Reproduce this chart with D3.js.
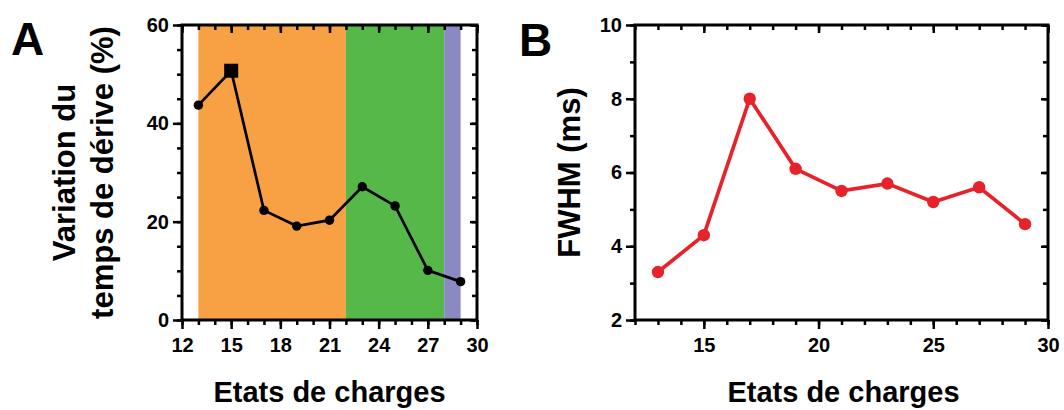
<!DOCTYPE html>
<html><head><meta charset="utf-8">
<script src="https://cdn.jsdelivr.net/npm/d3@7"></script>
<style>
html,body{margin:0;padding:0;background:#fff;}
svg text{font-family:"Liberation Sans",Arial,sans-serif;font-weight:bold;fill:#000;}
</style></head>
<body><svg id="c" width="1064" height="410"></svg>
<script>
// ---- data ----
const chargeStates = [13, 15, 17, 19, 21, 23, 25, 27, 29];
const driftVariation = [43.7, 50.7, 22.3, 19.1, 20.3, 27.1, 23.2, 10.1, 7.8];
const fwhm = [3.3, 4.3, 8.0, 6.1, 5.5, 5.7, 5.2, 5.6, 4.6];
const bandStarts = [13, 22, 28];
const bandEnds = [22, 28, 29];
const bandColors = ["#f7a044", "#57b84a", "#8a89c4"];
const xTicksA = [12, 15, 18, 21, 24, 27, 30];
const yTicksA = [0, 20, 40, 60];
const xTicksB = [15, 20, 25, 30];
const yTicksB = [2, 4, 6, 8, 10];
const xTitle = "Etats de charges";
const yTitleA = ["Variation du", "temps de dérive (%)"];
const yTitleB = "FWHM (ms)";

const svg = d3.select("#c");
const plotTop = 25, plotBottom = 320;

function frame(g, x, y, xMajor, xMinor, yMajor, yMinor) {
  const [x0, x1] = x.range();
  const axes = [
    [d3.axisBottom, x, `translate(0,${plotBottom})`, xMajor, xMinor, 9, 5, true, 9],
    [d3.axisTop, x, `translate(0,${plotTop})`, xMajor, xMinor, -8, -5, false, 0],
    [d3.axisLeft, y, `translate(${x0},0)`, yMajor, yMinor, 9, 5, true, 4],
    [d3.axisRight, y, `translate(${x1},0)`, yMajor, yMinor, -7, -5, false, 0]
  ];
  axes.forEach(([mk, sc, tr, maj, min, ls, ss, lab, pad]) => {
    const gm = g.append("g").attr("transform", tr)
      .call(mk(sc).tickValues(min).tickSize(ss).tickFormat(""));
    gm.select(".domain").remove();
    gm.selectAll("line").attr("stroke", "#000").attr("stroke-width", 2.5);
    const g2 = g.append("g").attr("transform", tr)
      .call(mk(sc).tickValues(maj).tickSize(ls).tickPadding(pad).tickFormat(lab ? d3.format("d") : () => ""));
    g2.select(".domain").remove();
    g2.selectAll("line").attr("stroke", "#000").attr("stroke-width", 2.5);
    g2.selectAll("text").style("font-size", "20px").style("font-family", "'Liberation Sans',Arial,sans-serif").style("font-weight", "bold").attr("fill", "#000");
  });
  g.append("rect").attr("x", x0).attr("y", plotTop).attr("width", x1 - x0).attr("height", plotBottom - plotTop)
    .attr("fill", "none").attr("stroke", "#000").attr("stroke-width", 3);
}

// ---- Panel A ----
const xA = d3.scaleLinear().domain([12, 30]).range([182, 477]);
const yA = d3.scaleLinear().domain([0, 60]).range([plotBottom, plotTop]);
const gA = svg.append("g");
gA.selectAll("rect.band").data(bandStarts).enter().append("rect").attr("class", "band")
  .attr("x", d => xA(d)).attr("width", (d, i) => xA(bandEnds[i]) - xA(d))
  .attr("y", plotTop).attr("height", plotBottom - plotTop).attr("fill", (d, i) => bandColors[i]);
const lineA = d3.line().x((d, i) => xA(chargeStates[i])).y(d => yA(d));
gA.append("path").datum(driftVariation).attr("d", lineA).attr("fill", "none").attr("stroke", "#000").attr("stroke-width", 2.7);
const ptsA = driftVariation.map((v, i) => ({x: chargeStates[i], v, i}));
gA.selectAll("circle").data(ptsA.filter(p => p.i !== 1)).enter().append("circle")
  .attr("cx", p => xA(p.x)).attr("cy", p => yA(p.v)).attr("r", 4.7).attr("fill", "#000");
gA.selectAll("rect.sq").data(ptsA.filter(p => p.i === 1)).enter().append("rect").attr("class", "sq")
  .attr("x", p => xA(p.x) - 7).attr("y", p => yA(p.v) - 7)
  .attr("width", 14).attr("height", 14).attr("fill", "#000");
frame(gA, xA, yA, xTicksA, d3.range(12, 31), yTicksA, d3.range(0, 61, 5));
gA.append("text").attr("x", 11).attr("y", 55).style("font-size", "46px").text("A");
const tA = gA.append("text").attr("transform", `translate(75,${(plotTop + plotBottom) / 2}) rotate(-90)`)
  .attr("text-anchor", "middle").style("font-size", "31px");
tA.append("tspan").attr("x", 0).attr("dy", 0).text(yTitleA[0]);
tA.append("tspan").attr("x", 0).attr("dy", 38).text(yTitleA[1]);
gA.append("text").attr("x", (182 + 477) / 2).attr("y", 402).attr("text-anchor", "middle").style("font-size", "29px").text(xTitle);

// ---- Panel B ----
const xB = d3.scaleLinear().domain([12, 30]).range([635, 1048]);
const yB = d3.scaleLinear().domain([2, 10]).range([plotBottom, plotTop]);
const gB = svg.append("g");
frame(gB, xB, yB, xTicksB, d3.range(12, 31), yTicksB, d3.range(2, 11, 1));
const lineB = d3.line().x((d, i) => xB(chargeStates[i])).y(d => yB(d));
gB.append("path").datum(fwhm).attr("d", lineB).attr("fill", "none").attr("stroke", "#e8222a").attr("stroke-width", 3.7);
gB.selectAll("circle").data(fwhm).enter().append("circle")
  .attr("cx", (d, i) => xB(chargeStates[i])).attr("cy", d => yB(d)).attr("r", 6.2).attr("fill", "#e8222a");
gB.append("text").attr("x", 519).attr("y", 56).style("font-size", "46px").text("B");
gB.append("text").attr("transform", `translate(580,${(plotTop + plotBottom) / 2}) rotate(-90)`)
  .attr("text-anchor", "middle").style("font-size", "31px").text(yTitleB);
gB.append("text").attr("x", (635 + 1048) / 2 + 2).attr("y", 402).attr("text-anchor", "middle").style("font-size", "29px").text(xTitle);
</script></body></html>
